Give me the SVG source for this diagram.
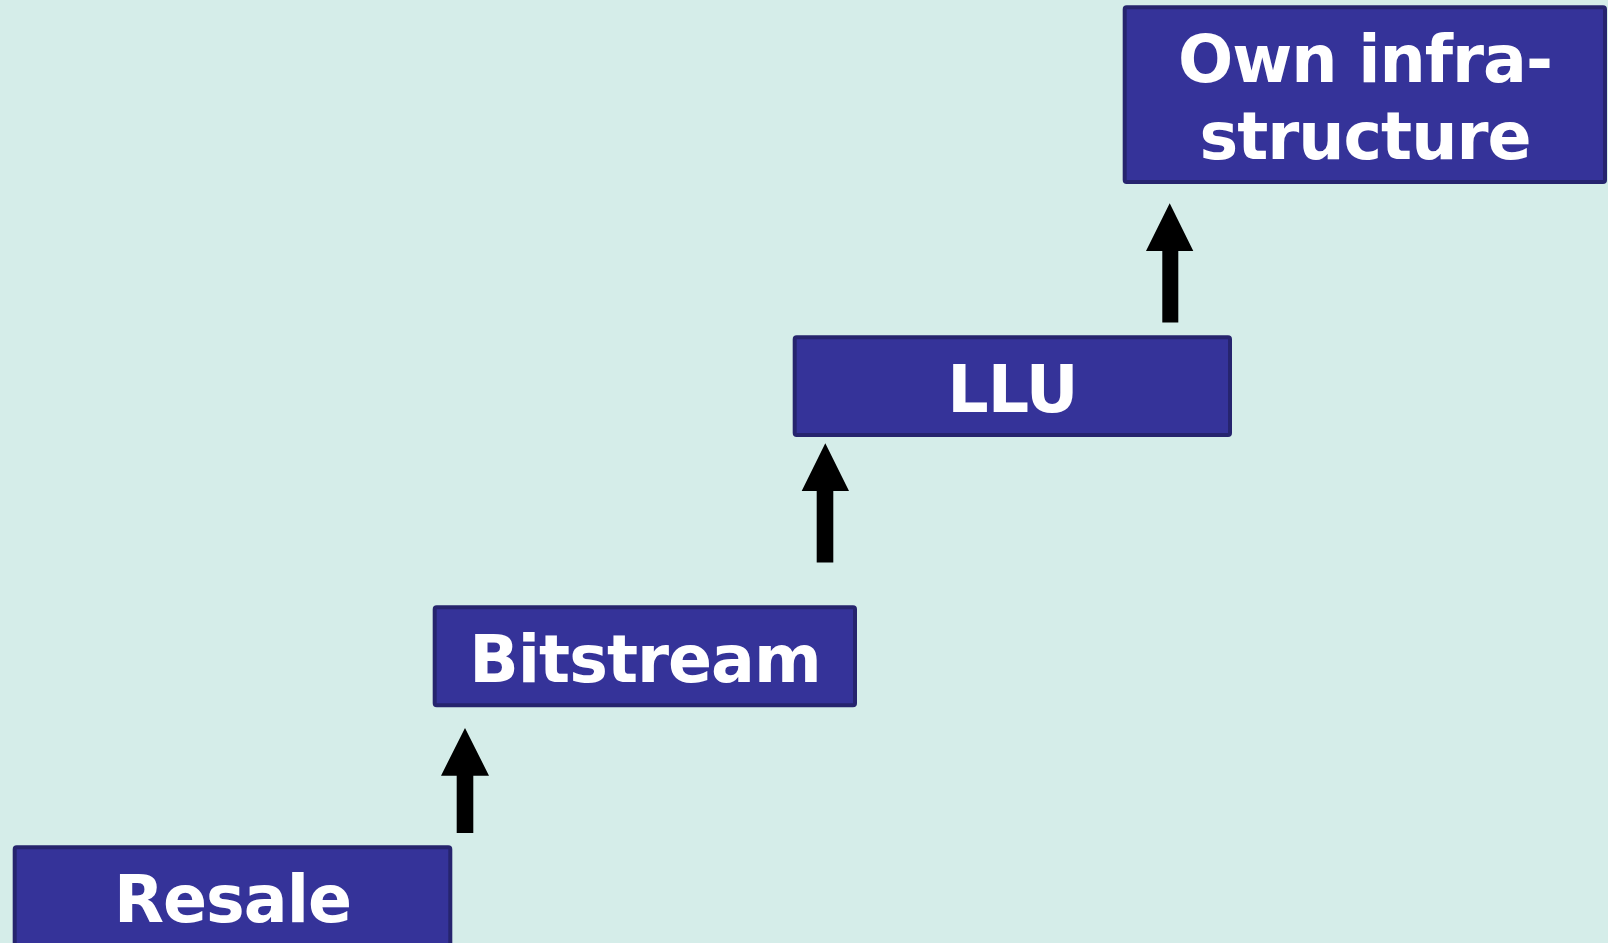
<svg xmlns="http://www.w3.org/2000/svg" width="1608" height="943" viewBox="0 0 1608 943">
<style>
.box{fill:#353399;stroke:#26246e;stroke-width:4}
.lbl{font-family:"DejaVu Sans",Verdana,sans-serif;font-weight:bold;font-size:65px;letter-spacing:-1px;fill:#ffffff;text-anchor:middle}
.arr{fill:#000000}
</style>
<rect width="1608" height="943" fill="#d5ede9"/>
<g id="connectors">
<polygon class="arr" points="465,728 489,775.7 473.3,775.7 473.3,833 456.7,833 456.7,775.7 441,775.7"/>
<polygon class="arr" points="825.3,443.3 849,491 833.3,491 833.3,562.5 816.7,562.5 816.7,491 801.7,491"/>
<polygon class="arr" points="1169.7,203.3 1193.3,251 1178.3,251 1178.3,322.5 1162.3,322.5 1162.3,251 1146,251"/>
</g>
<g id="resale">
<rect class="box" x="14.7" y="847.3" width="435.6" height="110" rx="2"/>
<text class="lbl" x="232.5" y="921.7">Resale</text>
</g>
<g id="bitstream">
<rect class="box" x="434.7" y="607.3" width="420.3" height="98" rx="2"/>
<text class="lbl" x="645" y="681.7">Bitstream</text>
</g>
<g id="llu">
<rect class="box" x="794.7" y="337.3" width="435.3" height="97.7" rx="2"/>
<text class="lbl" x="1012.5" y="411.7">LLU</text>
</g>
<g id="own">
<rect class="box" x="1124.7" y="7.3" width="480.3" height="174.7" rx="2"/>
<text class="lbl" x="1365" y="81.7">Own infra-</text>
<text class="lbl" x="1365" y="159">structure</text>
</g>
</svg>
